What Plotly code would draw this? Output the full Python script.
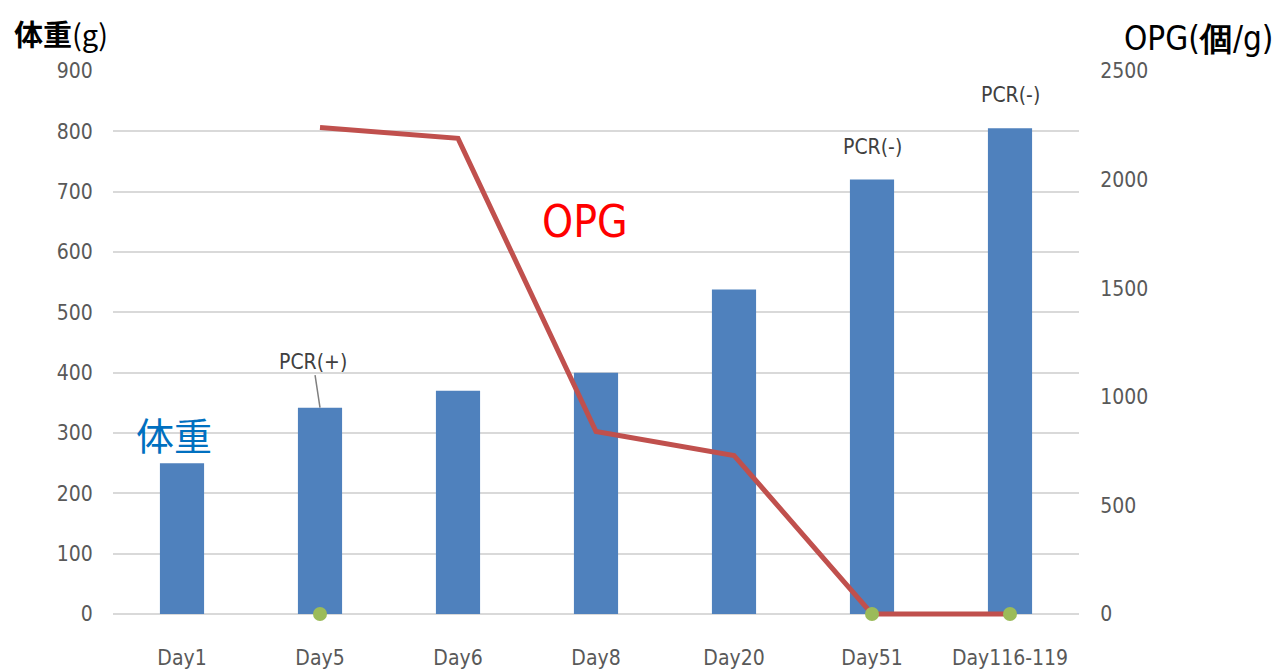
import plotly.graph_objects as go

# Observation days
days = ["Day1", "Day5", "Day6", "Day8", "Day20", "Day51", "Day116-119"]
# Body weight (g)
weight = [250, 342, 370, 400, 538, 720, 805]
# Oocysts per gram of feces (no count on Day1)
opg = [None, 2240, 2190, 840, 730, 0, 0]
# PCR test days and results
pcr_days = ["Day5", "Day51", "Day116-119"]
pcr_result = ["PCR(+)", "PCR(-)", "PCR(-)"]
pcr_level = [0, 0, 0]

narrow = "DejaVu Sans Condensed, Liberation Sans Narrow, Liberation Sans, sans-serif"
tick_font = dict(family=narrow, size=21, color="#595959")

# small room below zero so the thick OPG line is not clipped at the floor
pad_frac = 4 / 543
y1_range = [-900 * pad_frac, 900]
y2_range = [-2500 * pad_frac, 2500]

fig = go.Figure()
fig.add_trace(go.Bar(x=days, y=weight, marker=dict(color="#4f81bd", line=dict(width=0)),
                     name="体重", yaxis="y", showlegend=False))
fig.add_trace(go.Scatter(x=days, y=opg, mode="lines", line=dict(color="#c0504d", width=5),
                         name="OPG", yaxis="y2", showlegend=False))
fig.add_trace(go.Scatter(x=pcr_days, y=pcr_level, mode="markers",
                         marker=dict(color="#9bbb59", size=14), yaxis="y2",
                         cliponaxis=False, showlegend=False))

# PCR result labels over the bars
bar_top = dict(zip(days, weight))
for d, txt in zip(pcr_days, pcr_result):
    if txt == "PCR(+)":
        fig.add_annotation(x=d, y=bar_top[d], xref="x", yref="y", text=txt, showarrow=True,
                           font=dict(family=narrow, size=21, color="#404040"),
                           ax=-7, ay=-46, arrowhead=0, arrowwidth=1.5,
                           arrowcolor="#7f7f7f", standoff=0)
    else:
        fig.add_annotation(x=d, y=bar_top[d], xref="x", yref="y", text=txt, showarrow=False,
                           font=dict(family=narrow, size=21, color="#404040"), yshift=33)

fig.add_annotation(x="Day1", y=300, xref="x", yref="y", text="体重", showarrow=False,
                   font=dict(family="Noto Sans CJK JP", size=38, color="#0070c0"), xshift=-8)
fig.add_annotation(x=0.489, y=0.725, xref="paper", yref="paper", text="OPG", showarrow=False,
                   xanchor="center", yanchor="middle",
                   font=dict(family=narrow, size=44, color="#ff0000"))
fig.add_annotation(x=-0.105, y=1.069, xref="paper", yref="paper", text="<b>体重</b>(g)",
                   showarrow=False, xanchor="left", yanchor="middle",
                   font=dict(family="Noto Sans CJK JP", size=29, color="#000000"))
fig.add_annotation(x=1.045, y=1.06, xref="paper", yref="paper", text="OPG(<b>個</b>/g)",
                   showarrow=False, xanchor="left", yanchor="middle",
                   font=dict(family=narrow, size=33, color="#000000"))

fig.update_layout(
    width=1288, height=672,
    margin=dict(l=113, r=209, t=71, b=54),
    plot_bgcolor="white", paper_bgcolor="white",
    bargap=0.68,
    xaxis=dict(type="category", showgrid=False, showline=False, zeroline=False, automargin=False,
               ticks="outside", ticklen=21, tickcolor="rgba(0,0,0,0)", tickfont=tick_font),
    yaxis=dict(range=y1_range, tickvals=list(range(0, 901, 100)), showgrid=True,
               gridcolor="#d9d9d9", gridwidth=2, zeroline=False, showline=False,
               automargin=False, ticks="outside", ticklen=15, tickcolor="rgba(0,0,0,0)",
               tickfont=tick_font),
    yaxis2=dict(range=y2_range, tickvals=list(range(0, 2501, 500)), overlaying="y", side="right",
                showgrid=False, zeroline=False, showline=False, automargin=False,
                ticks="outside", ticklen=16, tickcolor="rgba(0,0,0,0)", tickfont=tick_font),
)

fig.write_html("out.html")
